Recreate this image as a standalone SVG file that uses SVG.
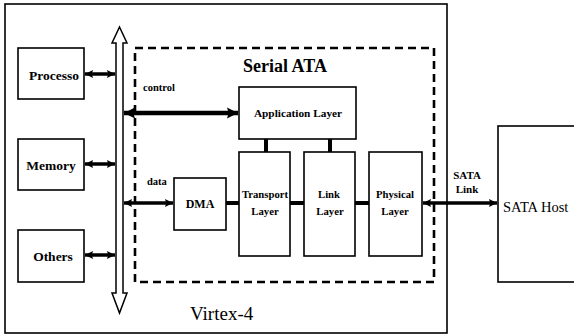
<svg xmlns="http://www.w3.org/2000/svg" width="574" height="335" viewBox="0 0 574 335">
<defs>
<marker id="ah" viewBox="0 0 10 10" refX="10" refY="5" markerUnits="userSpaceOnUse" markerWidth="8" markerHeight="10" orient="auto-start-reverse">
<path d="M0,0 L10,5 L0,10 L1.5,5 Z" fill="#000"/>
</marker>
<marker id="ahb" viewBox="0 0 10 10" refX="10" refY="5" markerUnits="userSpaceOnUse" markerWidth="11" markerHeight="13" orient="auto-start-reverse">
<path d="M0,0 L10,5 L0,10 L1.5,5 Z" fill="#000"/>
</marker>
</defs>
<style>
.box{fill:#fff;stroke:#000;stroke-width:1.6}
text{font-family:'Liberation Serif','Tinos','Times New Roman','DejaVu Serif',serif;fill:#000}
.b{font-weight:bold}
.arr{stroke:#000;stroke-width:3.5;fill:none;marker-start:url(#ah);marker-end:url(#ah)}
.arrb{stroke:#000;stroke-width:4.5;fill:none;marker-start:url(#ahb);marker-end:url(#ahb)}
.link{stroke:#000;stroke-width:4;fill:none}
</style>
<rect x="0" y="0" width="574" height="335" fill="#fff"/>
<g id="virtex4">
<rect class="box" x="5" y="4" width="442" height="329"/>
<text x="190" y="320" font-size="19">Virtex-4</text>
</g>
<g id="serial-ata">
<rect x="135" y="48" width="299" height="234" fill="none" stroke="#000" stroke-width="2.6" stroke-dasharray="8,5"/>
<text class="b" x="285" y="72" font-size="18" text-anchor="middle">Serial ATA</text>
</g>
<g id="bus">
<path d="M119.5,27 L127,43 L123,43 L123,293 L127,293 L119.5,313 L112,293 L116,293 L116,43 L112,43 Z" fill="#fff" stroke="#000" stroke-width="1.5" stroke-linejoin="miter"/>
</g>
<g id="processor">
<rect class="box" x="18" y="48" width="66" height="51"/>
<text class="b" x="29" y="80" font-size="13.5">Processo</text>
</g>
<g id="memory">
<rect class="box" x="18" y="139" width="66" height="51"/>
<text class="b" x="51" y="170" font-size="13.5" text-anchor="middle">Memory</text>
</g>
<g id="others">
<rect class="box" x="18" y="230" width="66" height="52"/>
<text class="b" x="53" y="261" font-size="13.5" text-anchor="middle">Others</text>
</g>
<g id="application-layer">
<rect class="box" x="239" y="87" width="117" height="52"/>
<text class="b" x="298" y="117" font-size="11.3" text-anchor="middle">Application Layer</text>
</g>
<g id="dma">
<rect class="box" x="174" y="178" width="52" height="52"/>
<text class="b" x="200" y="208" font-size="12" text-anchor="middle">DMA</text>
</g>
<g id="transport-layer">
<rect class="box" x="239" y="152" width="51" height="104"/>
<text class="b" x="265" y="198" font-size="10.7" text-anchor="middle">Transport</text>
<text class="b" x="265" y="215" font-size="10.7" text-anchor="middle">Layer</text>
</g>
<g id="link-layer">
<rect class="box" x="304" y="152" width="51" height="104"/>
<text class="b" x="329" y="198" font-size="10.7" text-anchor="middle">Link</text>
<text class="b" x="330" y="215" font-size="10.7" text-anchor="middle">Layer</text>
</g>
<g id="physical-layer">
<rect class="box" x="369" y="152" width="53" height="104"/>
<text class="b" x="395" y="198" font-size="10.7" text-anchor="middle">Physical</text>
<text class="b" x="395" y="215" font-size="10.7" text-anchor="middle">Layer</text>
</g>
<g id="sata-host">
<rect class="box" x="498" y="126" width="90" height="156"/>
<text x="503" y="212" font-size="14.5">SATA Host</text>
</g>
<g id="connectors">
<line class="arr" x1="85" y1="74" x2="115" y2="74"/>
<line class="arr" x1="85" y1="164" x2="115" y2="164"/>
<line class="arr" x1="85" y1="255" x2="115" y2="255"/>
<line class="arrb" x1="124" y1="113" x2="238" y2="113"/>
<text class="b" x="143" y="91" font-size="10.5">control</text>
<line class="arr" x1="124" y1="203" x2="173" y2="203"/>
<text class="b" x="147" y="185" font-size="10.5">data</text>
<line class="link" x1="226" y1="203" x2="239" y2="203"/>
<line class="link" x1="290" y1="203" x2="304" y2="203"/>
<line class="link" x1="355" y1="203" x2="369" y2="203"/>
<line class="link" x1="266" y1="139" x2="266" y2="152"/>
<line class="link" x1="330" y1="139" x2="330" y2="152"/>
<line class="arr" x1="423" y1="203" x2="497" y2="203"/>
<text class="b" x="467" y="179" font-size="11" text-anchor="middle">SATA</text>
<text class="b" x="467" y="193" font-size="11" text-anchor="middle">Link</text>
</g>
</svg>
